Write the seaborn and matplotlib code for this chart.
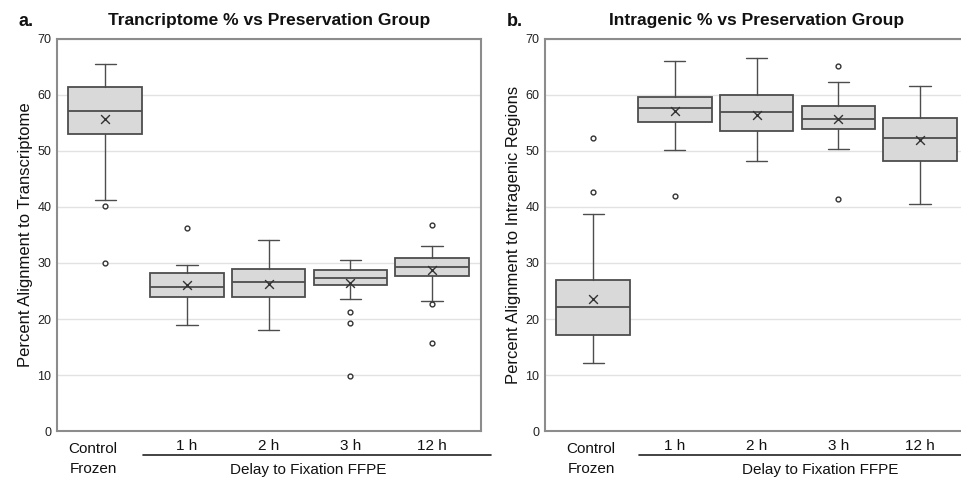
import numpy as np
import pandas as pd
import matplotlib
matplotlib.use("Agg")
import matplotlib.pyplot as plt
import matplotlib.transforms as mtransforms
import seaborn as sns

# groups on the x axis
groups = ["Control\nFrozen", "1 h", "2 h", "3 h", "12 h"]

# panel a: alignment to transcriptome (%)
tx_whislo = [41.3, 19.0, 18.0, 23.5, 23.2]
tx_q1 = [53.0, 24.0, 23.9, 26.0, 27.6]
tx_med = [57.1, 25.8, 26.6, 27.3, 29.2]
tx_q3 = [61.4, 28.3, 28.9, 28.75, 30.9]
tx_whishi = [65.5, 29.6, 34.1, 30.5, 33.1]
tx_mean = [55.7, 26.1, 26.25, 26.4, 28.8]
tx_fliers = [[40.2, 30.0], [36.2], [], [21.2, 19.3, 9.8], [36.7, 22.6, 15.7]]

# panel b: alignment to intragenic regions (%)
ig_whislo = [12.1, 50.2, 48.2, 50.4, 40.6]
ig_q1 = [17.1, 55.1, 53.6, 53.9, 48.3]
ig_med = [22.1, 57.6, 56.9, 55.7, 52.4]
ig_q3 = [27.0, 59.7, 60.0, 58.0, 55.9]
ig_whishi = [38.7, 66.1, 66.6, 62.3, 61.6]
ig_mean = [23.5, 57.2, 56.5, 55.8, 52.0]
ig_fliers = [[52.4, 42.6], [41.9], [], [65.1, 41.5], []]

yticks = [0, 10, 20, 30, 40, 50, 60, 70]

sns.set_theme(style="whitegrid")
plt.rcParams['font.family'] = ['Liberation Sans', 'DejaVu Sans']

EDGE = '#4d4d4d'
FILL = '#d9d9d9'
SPINE = '#8c8c8c'


def draw_panel(ax, whislo, q1, med, q3, whishi, mean, fliers, ylabel, title, letter,
               line_x, text_x, ctrl_shift):
    stats = []
    for i in range(len(groups)):
        stats.append({'whislo': whislo[i], 'q1': q1[i], 'med': med[i], 'q3': q3[i],
                      'whishi': whishi[i], 'fliers': [], 'label': groups[i]})
    pos = np.arange(len(groups))
    ax.bxp(stats, positions=pos, widths=0.9, capwidths=0.26, patch_artist=True,
           showfliers=False, showmeans=False,
           boxprops=dict(facecolor=FILL, edgecolor=EDGE, linewidth=1.3),
           medianprops=dict(color=EDGE, linewidth=1.3),
           whiskerprops=dict(color=EDGE, linewidth=1.0),
           capprops=dict(color=EDGE, linewidth=1.0))

    # means as x markers
    mean_df = pd.DataFrame({'pos': pos, 'val': mean})
    sns.scatterplot(data=mean_df, x='pos', y='val', marker='x', s=40, color='#333333',
                    linewidth=1.0, ax=ax, zorder=5, legend=False)

    # outliers as small open circles
    fl_pos, fl_val = [], []
    for i, vals in enumerate(fliers):
        for v in vals:
            fl_pos.append(i)
            fl_val.append(v)
    fl_df = pd.DataFrame({'pos': fl_pos, 'val': fl_val})
    sns.scatterplot(data=fl_df, x='pos', y='val', marker='o', s=12, facecolor='white',
                    edgecolor='#333333', linewidth=1.0, ax=ax, zorder=5, legend=False)

    ax.set_xlim(-0.59, 4.6)
    ax.set_ylim(0, 70)
    ax.set_yticks(yticks)
    ax.set_xticks(pos)
    ax.set_xticklabels(groups, fontsize=11, color='#111111', linespacing=1.5)
    ax.tick_params(axis='y', labelsize=9, pad=4, length=0, colors='#222222')
    ax.tick_params(axis='x', pad=6, length=0)
    # nudge the Control/Frozen label
    lbl = ax.get_xticklabels()[0]
    lbl.set_transform(lbl.get_transform() +
                      mtransforms.ScaledTranslation(ctrl_shift / 100, -0.03, ax.figure.dpi_scale_trans))
    ax.grid(axis='x', visible=False)
    ax.grid(axis='y', color='#e2e2e2', linewidth=1.0)
    ax.set_axisbelow(True)
    for sp in ax.spines.values():
        sp.set_color(SPINE)
        sp.set_linewidth(1.5)
    ax.set_xlabel('')
    ax.set_ylabel(ylabel, fontsize=12, color='#111111', labelpad=3)

    trans = mtransforms.blended_transform_factory(ax.transData, ax.transAxes)
    ax.plot(line_x, [-0.061, -0.061], color='#222222', linewidth=1.2,
            transform=trans, clip_on=False)
    ax.text(text_x, -0.1, 'Delay to Fixation FFPE', transform=trans, ha='center',
            va='center', fontsize=11, color='#111111')

    ax.set_title(title, fontsize=12.5, fontweight='bold', pad=10, color='#111111')
    ax.text(-0.09, 1.045, letter, transform=ax.transAxes, fontsize=13,
            fontweight='bold', ha='left', va='center', color='#111111')


fig = plt.figure(figsize=(9.61, 4.79), dpi=100)
ax1 = fig.add_axes([0.0593, 0.1002, 0.4412, 0.8184])
ax2 = fig.add_axes([0.5671, 0.1002, 0.4412, 0.8184])

draw_panel(ax1, tx_whislo, tx_q1, tx_med, tx_q3, tx_whishi, tx_mean, tx_fliers,
           'Percent Alignment to Transcriptome',
           'Trancriptome % vs Preservation Group', 'a.', [0.46, 4.72], 2.48, -12)
draw_panel(ax2, ig_whislo, ig_q1, ig_med, ig_q3, ig_whishi, ig_mean, ig_fliers,
           'Percent Alignment to Intragenic Regions',
           'Intragenic % vs Preservation Group', 'b.', [0.56, 5.2], 2.78, -2)

fig.savefig('out.png', dpi=100)
